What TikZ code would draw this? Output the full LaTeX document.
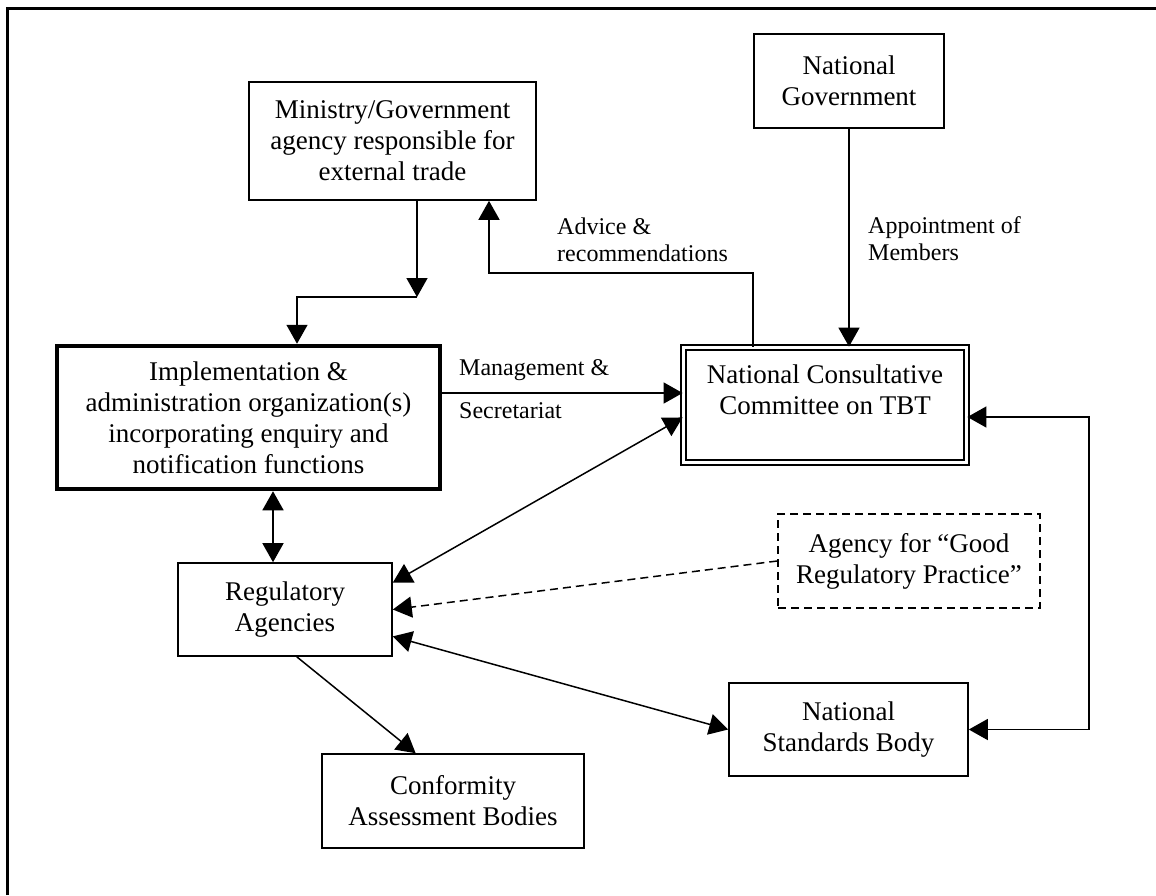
\documentclass[tikz,border=0pt]{standalone}
\usepackage{fontspec}
\setmainfont{Liberation Serif}
\usetikzlibrary{arrows.meta}

\tikzset{
  box/.style={draw, line width=1.6pt, align=center, inner sep=0pt,
    font=\fontsize{27}{31}\selectfont},
  lbl/.style={align=left, anchor=west, inner sep=0pt,
    font=\fontsize{24}{27}\selectfont},
  arr/.style={line width=1.5pt, -{Triangle[length=19pt,width=21pt]}},
  darr/.style={line width=1.5pt, {Triangle[length=19pt,width=21pt]}-{Triangle[length=19pt,width=21pt]}},
}

\begin{document}
\begin{tikzpicture}[x=1pt, y=-1pt]
\useasboundingbox (0,0) rectangle (1156,895);
% frame
\draw[line width=3pt] (7.5,895) -- (7.5,8.5) -- (1156,8.5);
% boxes
\node[box, minimum width=287pt, minimum height=118pt] (ministry) at (392.5,141)
  {Ministry/Government\\agency responsible for\\external trade};
\node[box, minimum width=190pt, minimum height=94pt] (govt) at (849,81)
  {National\\Government};
\node[box, line width=4.5pt, minimum width=383pt, minimum height=143pt] (impl) at (248.5,417.5)
  {Implementation \&\\administration organization(s)\\incorporating enquiry and\\notification functions};
\node[box, line width=1.8pt, double, double distance=3pt, minimum width=283pt, minimum height=115pt] (ncc) at (825,405)
  {National Consultative\\Committee on TBT\\~};
\node[box, minimum width=214pt, minimum height=93pt] (reg) at (285,609.5)
  {Regulatory\\Agencies};
\node[box, dash pattern=on 8pt off 5pt, minimum width=262pt, minimum height=94pt] (gpa) at (909,561)
  {Agency for ``Good\\Regulatory Practice''};
\node[box, minimum width=239pt, minimum height=93pt] (nsb) at (848.5,729.5)
  {National\\Standards Body};
\node[box, minimum width=262pt, minimum height=94pt] (cab) at (453,801)
  {Conformity\\Assessment Bodies};
% bends
\coordinate (mid) at (417,297);
\coordinate (bend) at (297,297);
\coordinate (advr) at (753,273);
\coordinate (advl) at (489,273);
\coordinate (mgmt) at (560,393);
\coordinate (vert) at (273,520);
\coordinate (rt) at (1089,417);
% connectors
\draw[arr] (ministry.south -| mid) -- (mid);
\draw[arr] (mid) -- (bend) -- (bend |- impl.north);
\draw[arr] (ncc.north -| advr) -- (advr) -- (advl) -- (advl |- ministry.south);
\draw[arr] (govt.south) -- (govt.south |- ncc.north);
\draw[arr] (impl.east |- mgmt) -- (ncc.west |- mgmt);
\draw[darr] (impl.south -| vert) -- (reg.north -| vert);
\draw[darr] (ncc.185) -- (reg.14);
\draw[arr, dash pattern=on 8pt off 5pt] (gpa.west) -- (reg.east);
\draw[darr] (reg.346) -- (nsb.west);
\draw[darr] (ncc.east |- rt) -- (rt) -- (rt |- nsb.east) -- (nsb.east);
\draw[arr] (reg.284) -- (cab.128);
% labels
\node[lbl] (advice) at (557,240) {Advice \&\\recommendations};
\node[lbl] (appoint) at (868,239) {Appointment of\\Members};
\node[lbl] (mtop) at (459,370) {Management \&};
\node[lbl] (mbot) at (459,411) {Secretariat};
\end{tikzpicture}
\end{document}
